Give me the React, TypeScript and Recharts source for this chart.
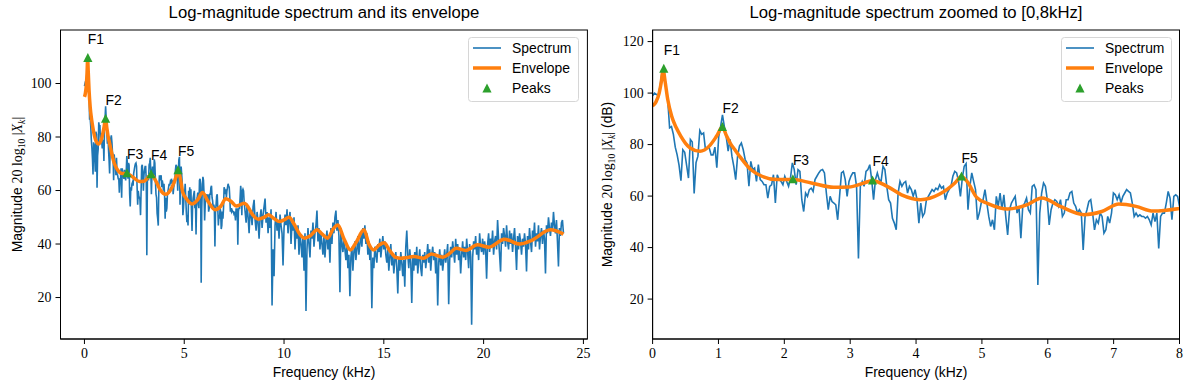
import React from 'react';
import { ComposedChart, Line, Scatter, XAxis, YAxis } from 'recharts';

// spectrum 0..8 kHz (uniform bins)
const LOW_BAND_MAX_KHZ = 8;
const LOW_BAND_DB = [
  99, 100, 99.5, 99, 103, 108, 108.5, 103, 97.5,
  86.5, 87, 84, 79, 76, 72, 66, 78, 77, 72,
  67, 82, 81, 61, 73, 75.5, 85.5, 84, 84.5, 78,
  78.7, 78.7, 76, 76, 79, 71, 83, 87, 91.5, 87,
  83, 77.5, 82, 75.5, 71.5, 66.4, 75.5, 79.4, 80.6, 78,
  74.2, 72.9, 63.8, 73.5, 70.3, 70.9, 65.7, 72.2, 66.4, 65.7,
  64.4, 64.4, 59.2, 63.8, 64.4, 68.3, 57.3, 68.3, 66.4, 65.7,
  64.4, 67.7, 65.7, 63.8, 67, 72.9, 70.3, 64.4, 70.3, 69.6,
  58.6, 54, 61.2, 59.9, 62.5, 63.1, 61.8, 66.4, 67.7, 69,
  70, 70.3, 69, 61.2, 54.7, 59.9, 57.9, 57.3, 56.6, 50.8,
  59.9, 69, 69.6, 66.4, 59.9, 65.7, 67.7, 69, 69, 63.8,
  35.8, 63.8, 65.7, 63.8, 69.6, 70.3, 72.2, 66.4, 58.6, 66.4,
  69, 66.4, 65.7, 71.6, 70.3, 63.8, 58.6, 57.3, 51.4, 49.5,
  46.9, 61.2, 65.7, 63.8, 65.1, 65.7, 61.2, 63.8, 62.5, 59.9,
  62.5, 58.6, 49.5, 57.3, 52.1, 53.4, 58.6, 59.9, 61.2, 62.5,
  61.8, 63.1, 62.5, 64.4, 63.1, 63.8, 58.6, 61.2, 62.5, 63.8,
  67.7, 69.6, 69, 65.7, 59.9, 67, 71.6, 72.6, 54.7, 63.8,
  69, 65.7, 62.5, 50.8, 53.4, 57.3, 58.6, 62.5, 57.3, 52.1,
  48.2, 50.8, 46.9, 59.9, 56, 61.2, 54.7, 60.5, 52.1, 44.9,
  54.7, 57.3, 58.6, 59.9, 53.4, 56, 43.6, 56, 57.3, 59.2,
  54.7, 53.4, 63.8, 64.4, 62.5, 25.5, 53.4, 61.2, 65.1, 63.8,
  58.6, 48.8, 54.7, 57.3, 58.6, 57.9, 56, 58.6, 52.1, 53.4,
  58.6, 58.6, 61.2, 61.8, 57.3, 56, 53.4, 54.7, 53.4, 39.1,
  52.1, 54.7, 57.9, 58.6, 53.4, 46.9, 50.8, 49.5, 53.4, 52.1,
  45.6, 46.9, 52.1, 49.5, 53.4, 61.2, 60.5, 58.6, 60.5, 57.3,
  59.9, 61.2, 62.5, 61.8, 61.2, 57.3, 52.1, 53.4, 52.1, 52.7,
  52.1, 52.1, 51.4, 52.1, 50.8, 48.8, 53.4, 50.1, 53.4, 39.7,
  52.1, 53.4, 53.4, 57.3, 61.8, 59.2, 50.8, 59.9, 60.5, 59.9,
  56,
];

// spectrum 8.05..24 kHz every 0.05 kHz
const HIGH_BAND_START_KHZ = 8.05;
const HIGH_BAND_STEP_KHZ = 0.05;
const HIGH_BAND_DB = [
  52, 48, 55, 50, 44, 53, 51, 47, 54, 56.5, 49, 45, 52, 48, 42, 50, 53, 46, 51, 54,
  57, 48, 52, 44, 50, 46, 53, 17, 38, 28, 47, 52, 45, 49, 42, 51, 47, 44, 32, 46,
  51, 47, 53, 44, 49, 52, 40, 48, 45, 50, 38, 46, 42, 47, 36, 44, 40, 35, 43, 30,
  44, 15, 38, 46, 40, 35, 45, 42, 48, 39, 44, 47, 52.5, 41, 46, 38, 44, 40, 36, 43,
  35, 41, 45, 38, 43, 33, 46, 40, 48, 44, 50, 52.5, 45, 49, 43, 22, 46, 40, 37, 42,
  38, 34, 40, 31, 36, 20.5, 35, 39, 30, 37, 41, 34, 38, 43, 36, 40, 44, 39, 46, 42,
  47, 40, 44, 36, 41, 34, 38, 16, 35, 31, 39, 36, 33, 40, 37, 42, 35, 39, 43, 38,
  41, 36, 33, 38, 30, 35, 40, 32, 36, 29, 34, 37, 31, 21.5, 35, 30, 37, 33, 28, 34,
  24, 39, 45, 36, 31, 38, 33, 18, 35, 30, 37, 32, 39, 29, 34, 38, 31, 28, 36, 33,
  37, 31, 35, 40, 33, 38, 30, 36, 39, 34, 37, 29, 35, 17, 33, 38, 32, 36, 30, 34,
  38, 33, 36, 40, 17.5, 34, 39, 35, 41, 37, 33, 42, 36, 40, 34, 38, 29, 36, 41, 35,
  39, 34, 42, 37, 31, 40, 36, 9.8, 35, 41, 38, 43, 36, 40, 34, 44, 39, 37, 42, 36,
  41, 38, 27, 40, 44, 37, 42, 39, 45, 36, 41, 43, 38, 49, 42, 36, 29.7, 44, 40, 46,
  43, 39, 47, 41, 38, 45, 40, 44, 37, 42, 46, 39, 30.3, 43, 38, 44, 41, 36, 42, 39,
  44, 40, 29.7, 43, 38, 46, 41, 37, 45, 42, 48, 39, 44, 41, 47, 38, 43, 46, 40, 45,
  42, 29, 47, 44, 50, 46, 43, 48, 45, 52, 47, 44, 49, 41, 31.6, 46, 43, 48, 49, 44,
];

const ENV_KHZ = [
  0, 0.05, 0.1, 0.13, 0.16, 0.19, 0.23, 0.29, 0.36, 0.43, 0.5, 0.57, 0.72, 0.86, 0.97,
  1.06, 1.12, 1.18, 1.25, 1.32, 1.49, 1.66, 1.89, 2.13, 2.41, 2.75, 2.98, 3.21, 3.34,
  3.56, 3.78, 4.07, 4.36, 4.59, 4.69, 4.78, 4.92, 5.1, 5.39, 5.68, 5.91, 6.19, 6.55,
  6.82, 7.08, 7.34, 7.6, 8.0, 8.13, 8.42, 8.71, 9.0, 9.23, 9.5, 9.77, 10.0, 10.25,
  10.5, 10.8, 11.02, 11.3, 11.66, 11.9, 12.18, 12.45, 12.7, 13.0, 13.33, 13.6, 14.01,
  14.25, 14.49, 14.75, 15.01, 15.3, 15.6, 15.84, 16.2, 16.51, 16.99, 17.38, 17.96,
  18.3, 18.63, 19.11, 19.69, 20.27, 21.04, 21.81, 22.39, 23.35, 24.0,
];
const ENV_DB = [
  95, 96.5, 100, 104, 109, 104.5, 97.5, 91, 86.5, 83.2, 80.5, 78.7, 77.4, 79.4, 83.2,
  86.8, 83.5, 80.5, 78, 75.5, 70.3, 67.7, 66.4, 66.4, 65.1, 63.4, 63.5, 65.1, 66,
  63.8, 60.5, 58.6, 60.8, 65.1, 67.6, 65.5, 59.5, 57, 55, 56.6, 59.3, 56, 52.8,
  54, 56.9, 56, 54.2, 55.2, 54.6, 51, 49.3, 50, 50.9, 49.5, 48.4, 49, 50,
  47.5, 43.5, 42.2, 43, 45.3, 43.8, 42.2, 45.5, 47.1, 42, 37.8, 40.5, 45.3,
  40, 37.8, 39.5, 40.5, 37.5, 35, 34.7, 35, 35.3, 34.7, 36.3, 35.1,
  36.5, 38.4, 37.6, 39.7, 38.8, 41.8, 40, 41.3, 45.3, 43.7,
];

const PEAK_NAMES = ['F1', 'F2', 'F3', 'F4', 'F5'];
const PEAK_KHZ = [0.17, 1.06, 2.13, 3.34, 4.69];
const PEAK_DB = [109.5, 86.8, 66.5, 66.1, 67.6];

const FULL_X_TICKS = [0, 5, 10, 15, 20, 25];
const FULL_Y_TICKS = [20, 40, 60, 80, 100];
const ZOOM_X_TICKS = [0, 1, 2, 3, 4, 5, 6, 7, 8];
const ZOOM_Y_TICKS = [20, 40, 60, 80, 100, 120];

const BLUE = '#1f77b4';
const ORANGE = '#ff7f0e';
const GREEN = '#2ca02c';
const SANS = '"Liberation Sans", Arial, Helvetica, sans-serif';
const SERIF = '"Liberation Serif", "Times New Roman", serif';
const FS = 13.9;

const spectrum = [
  ...LOW_BAND_DB.map((db, i) => ({ f: (i * LOW_BAND_MAX_KHZ) / (LOW_BAND_DB.length - 1), db })),
  ...HIGH_BAND_DB.map((db, i) => ({ f: HIGH_BAND_START_KHZ + i * HIGH_BAND_STEP_KHZ, db })),
];
const envelope = ENV_KHZ.map((f, i) => ({ f, db: ENV_DB[i] }));
const peaks = PEAK_KHZ.map((f, i) => ({ f, db: PEAK_DB[i], name: PEAK_NAMES[i] }));

const PeakMarker = (props: any) => {
  const { cx, cy, payload } = props;
  if (cx == null || cy == null) return null;
  return (
    <g>
      <polygon points={`${cx},${cy - 5} ${cx - 4.6},${cy + 4} ${cx + 4.6},${cy + 4}`} fill={GREEN} />
      <text x={cx} y={cy - 14} fontFamily={SANS} fontSize={FS} fill="#000">
        {payload.name}
      </text>
    </g>
  );
};

const XTick = (props: any) => (
  <text x={props.x} y={props.y} dy="0.72em" textAnchor="middle" fontFamily={SERIF} fontSize={FS} fill="#000">
    {props.payload.value}
  </text>
);
const YTick = (props: any) => (
  <text x={props.x} y={props.y} dy="0.35em" textAnchor="end" fontFamily={SERIF} fontSize={FS} fill="#000">
    {props.payload.value}
  </text>
);

interface PanelProps {
  width: number;
  xDomain: [number, number];
  yDomain: [number, number];
  xTicks: number[];
  yTicks: number[];
  maxKhz: number;
  yAxisWidth: number;
  rightMargin: number;
}

const spine = { stroke: '#000', strokeWidth: 1 };

const Panel: React.FC<PanelProps> = ({ width, xDomain, yDomain, xTicks, yTicks, maxKhz, yAxisWidth, rightMargin }) => {
  const spec = spectrum.filter((p) => p.f <= maxKhz + 1e-6);
  const env = envelope.filter((p) => p.f <= maxKhz + 1e-6);
  return (
    <ComposedChart width={width} height={390} margin={{ top: 30, right: rightMargin, bottom: 21, left: 0 }}>
      <XAxis
        type="number" dataKey="f" domain={xDomain} ticks={xTicks} interval={0}
        allowDataOverflow height={30} tickSize={5} tickMargin={4}
        axisLine={spine} tickLine={spine} tick={<XTick />}
      />
      <YAxis
        type="number" dataKey="db" domain={yDomain} ticks={yTicks} interval={0}
        allowDataOverflow width={yAxisWidth} tickSize={5} tickMargin={4}
        axisLine={spine} tickLine={spine} tick={<YTick />}
      />
      <Line data={spec} dataKey="db" type="linear" stroke={BLUE} strokeWidth={1.6}
        dot={false} activeDot={false} isAnimationActive={false} />
      <Line data={env} dataKey="db" type="monotone" stroke={ORANGE} strokeWidth={3.5}
        dot={false} activeDot={false} isAnimationActive={false} />
      <Scatter data={peaks} dataKey="db" shape={PeakMarker} isAnimationActive={false} />
    </ComposedChart>
  );
};

const LegendBox: React.FC<{ x: number }> = ({ x }) => (
  <g>
    <rect x={x + 0.5} y={37.5} width={110} height={64} rx={3} fill="#fff" fillOpacity={0.8} stroke="#d6d6d6" />
    <line x1={x + 5} x2={x + 33} y1={48} y2={48} stroke={BLUE} strokeWidth={1.6} />
    <text x={x + 44} y={53} fontFamily={SANS} fontSize={FS}>Spectrum</text>
    <line x1={x + 5} x2={x + 33} y1={68} y2={68} stroke={ORANGE} strokeWidth={3.5} />
    <text x={x + 44} y={73} fontFamily={SANS} fontSize={FS}>Envelope</text>
    <polygon points={`${x + 19},${83.5} ${x + 14.4},${92.5} ${x + 23.6},${92.5}`} fill={GREEN} />
    <text x={x + 44} y={93} fontFamily={SANS} fontSize={FS}>Peaks</text>
  </g>
);

const YLabel: React.FC<{ x: number; unit?: boolean }> = ({ x, unit }) => (
  <text transform={`translate(${x},184.5) rotate(-90)`} textAnchor="middle" fontSize={FS} fill="#000">
    <tspan fontFamily={SANS}>Magnitude </tspan>
    <tspan fontFamily={SERIF}>20 log</tspan>
    <tspan fontFamily={SERIF} fontSize={9.7} dy={3}>10</tspan>
    <tspan fontFamily={SERIF} dy={-3}> |</tspan>
    <tspan fontFamily={SERIF} fontStyle="italic">X</tspan>
    <tspan fontFamily={SERIF} fontStyle="italic" fontSize={9.7} dy={3}>k</tspan>
    <tspan fontFamily={SERIF} dy={-3}>|</tspan>
    {unit ? <tspan fontFamily={SANS}> (dB)</tspan> : null}
  </text>
);

export default function App() {
  return (
    <div style={{ position: 'absolute', left: 0, top: 0, width: 1189, height: 390, background: '#fff', overflow: 'hidden' }}>
      <div style={{ position: 'absolute', left: 0, top: 0 }}>
        <Panel width={600} xDomain={[-1.2, 25.2]} yDomain={[4.5, 120]} xTicks={FULL_X_TICKS} yTicks={FULL_Y_TICKS}
          maxKhz={24} yAxisWidth={60.5} rightMargin={12.6} />
      </div>
      <div style={{ position: 'absolute', left: 594, top: 0 }}>
        <Panel width={595} xDomain={[0, 8]} yDomain={[4.5, 124.5]} xTicks={ZOOM_X_TICKS} yTicks={ZOOM_Y_TICKS}
          maxKhz={8} yAxisWidth={58.6} rightMargin={9.5} />
      </div>
      <svg width={1189} height={390} style={{ position: 'absolute', left: 0, top: 0, pointerEvents: 'none' }}>
        {/* axes frames (top and right spines) */}
        <rect x={60.5} y={30} width={526.9} height={309} fill="none" stroke="#000" strokeWidth={1} />
        <rect x={652.6} y={30} width={526.9} height={309} fill="none" stroke="#000" strokeWidth={1} />
        <text x={324} y={18} textAnchor="middle" fontFamily={SANS} fontSize={16.7}>Log-magnitude spectrum and its envelope</text>
        <text x={916} y={18} textAnchor="middle" fontFamily={SANS} fontSize={16.7}>Log-magnitude spectrum zoomed to [0,8kHz]</text>
        <text x={324} y={377} textAnchor="middle" fontFamily={SANS} fontSize={FS}>Frequency (kHz)</text>
        <text x={916} y={377} textAnchor="middle" fontFamily={SANS} fontSize={FS}>Frequency (kHz)</text>
        <YLabel x={22} />
        <YLabel x={612} unit />
        <LegendBox x={468} />
        <LegendBox x={1061} />
      </svg>
    </div>
  );
}
